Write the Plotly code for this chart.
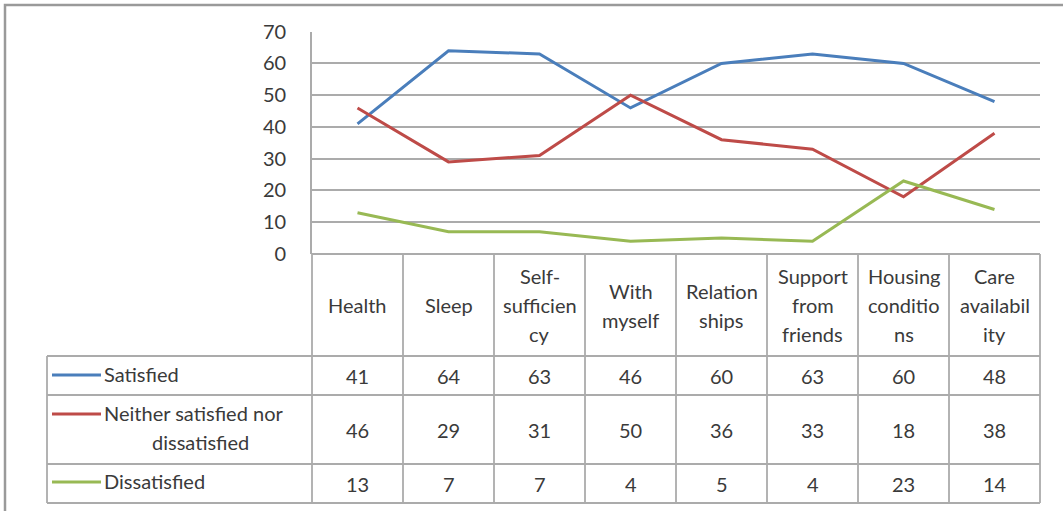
import plotly.graph_objects as go

# Survey results: share of respondents (%) per life domain
categories = ["Health", "Sleep", "Self-<br>sufficien<br>cy", "With<br>myself",
              "Relation<br>ships", "Support<br>from<br>friends",
              "Housing<br>conditio<br>ns", "Care<br>availabil<br>ity"]
satisfied = [41, 64, 63, 46, 60, 63, 60, 48]
neither = [46, 29, 31, 50, 36, 33, 18, 38]
dissatisfied = [13, 7, 7, 4, 5, 4, 23, 14]

series_names = ["Satisfied", "Neither satisfied nor<br>dissatisfied", "Dissatisfied"]
series_values = [satisfied, neither, dissatisfied]
series_colors = ["#4A7EBB", "#BE4B48", "#98B954"]

y_ticks = [0, 10, 20, 30, 40, 50, 60, 70]

W, H = 1063, 511
FONT = "Lato"
FSIZE = 20
TEXT = "#3a3a3a"
GRID = "#ababab"
TABLE = "#ababab"

# Pixel geometry of plot area and data table
X0, X1 = 312, 1040          # plot / table columns
Y_TOP, Y_BASE = 31.7, 254   # value 70 and value 0
LEG_X0 = 47                  # left edge of the legend column
ROW_EDGES = [254, 356, 395, 464, 503]


def px(x):
    return x / W


def py(y):
    return 1 - y / H


n = len(categories)
col_w = (X1 - X0) / n

fig = go.Figure()
for name, vals, col in zip(series_names, series_values, series_colors):
    fig.add_trace(go.Scatter(
        x=list(range(n)), y=vals, mode="lines",
        line=dict(color=col, width=3), name=name.replace("<br>", " "),
        showlegend=False, hoverinfo="skip"))

shapes = []
annotations = []

# Outer chart frame (only top and left edges fall inside the page)
shapes.append(dict(type="rect", xref="paper", yref="paper",
                   x0=px(5), x1=px(1075), y0=py(530), y1=py(5),
                   line=dict(color="#9a9a9a", width=2.5)))


def hline(x0, x1, y):
    shapes.append(dict(type="line", xref="paper", yref="paper",
                       x0=px(x0), x1=px(x1), y0=py(y), y1=py(y),
                       line=dict(color=TABLE, width=1.8)))


def vline(x, y0, y1):
    shapes.append(dict(type="line", xref="paper", yref="paper",
                       x0=px(x), x1=px(x), y0=py(y0), y1=py(y1),
                       line=dict(color=TABLE, width=1.8)))


# Table grid
hline(X0, X1, ROW_EDGES[0])
for y in ROW_EDGES[1:]:
    hline(LEG_X0, X1, y)
for i in range(n + 1):
    vline(X0 + i * col_w, ROW_EDGES[0], ROW_EDGES[-1])
vline(LEG_X0, ROW_EDGES[1], ROW_EDGES[-1])


def label(text, x, y, anchor="center"):
    annotations.append(dict(text=text, x=px(x), y=py(y), xref="paper", yref="paper",
                            xanchor=anchor, yanchor="middle", showarrow=False,
                            font=dict(family=FONT, size=FSIZE, color=TEXT)))


# Category header cells (each line placed separately for Excel-like spacing)
head_mid = (ROW_EDGES[0] + ROW_EDGES[1]) / 2
line_gap = 29
for i, cat in enumerate(categories):
    parts = cat.split("<br>")
    cx = X0 + (i + 0.5) * col_w
    for k, part in enumerate(parts):
        label(part, cx, head_mid + (k - (len(parts) - 1) / 2) * line_gap)

# Value rows
row_mids = [375.5, 430, 483.5]
for r, vals in enumerate(series_values):
    for i, v in enumerate(vals):
        label(str(v), X0 + (i + 0.5) * col_w, row_mids[r])

# Legend keys and series names
key_y = [375, 414, 482]
for r, (name, col) in enumerate(zip(series_names, series_colors)):
    shapes.append(dict(type="line", xref="paper", yref="paper",
                       x0=px(52), x1=px(101), y0=py(key_y[r]), y1=py(key_y[r]),
                       line=dict(color=col, width=3)))
    parts = name.split("<br>")
    if len(parts) == 1:
        label(parts[0], 102, key_y[r] - 1, anchor="left")
    else:
        label(parts[0], 102, 413, anchor="left")
        label(parts[1], 200, 442)

fig.update_layout(
    width=W, height=H,
    margin=dict(l=0, r=0, t=0, b=0, pad=0, autoexpand=False),
    paper_bgcolor="white", plot_bgcolor="white",
    shapes=shapes, annotations=annotations,
    xaxis=dict(domain=[px(X0), px(X1)], range=[-0.5, n - 0.5],
               showgrid=False, zeroline=False, showticklabels=False,
               showline=False, fixedrange=True),
    yaxis=dict(domain=[py(Y_BASE), py(Y_TOP)], range=[0, 70],
               tickvals=y_ticks, showgrid=True, gridcolor=GRID, gridwidth=1.8,
               zeroline=False, showline=True, linecolor=TABLE, linewidth=1.8,
               ticks="", ticklabelstandoff=20, automargin=False,
               tickfont=dict(family=FONT, size=FSIZE, color=TEXT)),
)

fig.write_html("out.html")
